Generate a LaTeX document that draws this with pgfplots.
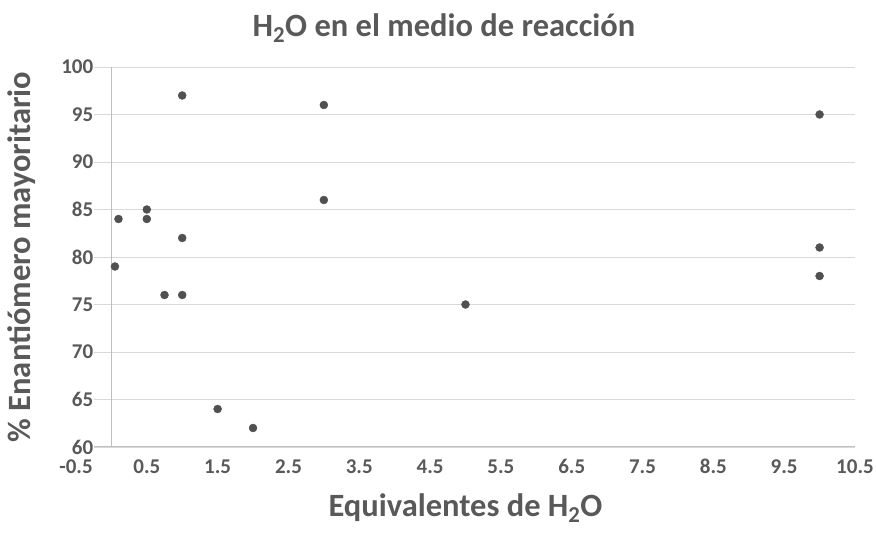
\documentclass[border=0pt]{standalone}
\usepackage{pgfplots}
\pgfplotsset{compat=1.18}
\usepackage{fontspec}
\setmainfont{Carlito}
\definecolor{txt}{HTML}{595959}
\definecolor{mk}{HTML}{505050}
\definecolor{grd}{HTML}{D9D9D9}
\definecolor{axl}{HTML}{BFBFBF}
\begin{document}
\begin{tikzpicture}
\useasboundingbox (0,0) rectangle (876pt,536pt);
\begin{axis}[
  at={(76pt,89pt)}, anchor=south west,
  scale only axis, width=779pt, height=380pt,
  xmin=-0.5, xmax=10.5, ymin=60, ymax=100,
  axis x line=bottom, axis y line=middle,
  hide obscured x ticks=false, hide obscured y ticks=false,
  axis line style={draw=axl, line width=1pt, -},
  every inner y axis line/.append style={-},
  every outer x axis line/.append style={-},
  major tick length=0pt,
  xtick={-0.5,0.5,1.5,2.5,3.5,4.5,5.5,6.5,7.5,8.5,9.5,10.5},
  xticklabels={{-0.5},{0.5},{1.5},{2.5},{3.5},{4.5},{5.5},{6.5},{7.5},{8.5},{9.5},{10.5}},
  ytick={60,65,...,100},
  yticklabels={60,65,70,75,80,85,90,95,100},
  ymajorgrids, grid style={draw=grd, line width=0.8pt},
  xticklabel style={font=\bfseries\fontsize{21}{21}\selectfont, text=txt, anchor=north,
    text height=13pt, text depth=0pt, inner sep=0pt, yshift=-13pt},
  yticklabel style={font=\bfseries\fontsize{21}{21}\selectfont, text=txt, anchor=east, fill=white, inner sep=1pt, xshift=-17pt},
  every axis title/.style={at={(axis description cs:0.4724,1.1026)}, anchor=center,
    font=\bfseries\fontsize{32.5}{32.5}\selectfont, text=txt},
  title={H\textsubscript{2}O en el medio de reacción},
  every axis x label/.style={at={(axis description cs:0.5,-0.1605)}, anchor=center,
    font=\bfseries\fontsize{32.5}{32.5}\selectfont, text=txt},
  xlabel={Equivalentes de H\textsubscript{2}O},
  every axis y label/.style={at={(axis description cs:-0.0693,0.5)}, anchor=center, rotate=90,
    font=\bfseries\fontsize{32.5}{32.5}\selectfont, text=txt},
  ylabel={\% Enantiómero mayoritario},
  clip=false,
]
\addplot[only marks, mark=*, mark size=4pt, color=mk, mark options={draw=mk, fill=mk}] coordinates {
  (0.05,79) (0.1,84) (0.5,85) (0.5,84) (0.75,76)
  (1,97) (1,82) (1,76) (1.5,64) (2,62)
  (3,96) (3,86) (5,75) (10,95) (10,81) (10,78)
};
\end{axis}
\end{tikzpicture}
\end{document}
